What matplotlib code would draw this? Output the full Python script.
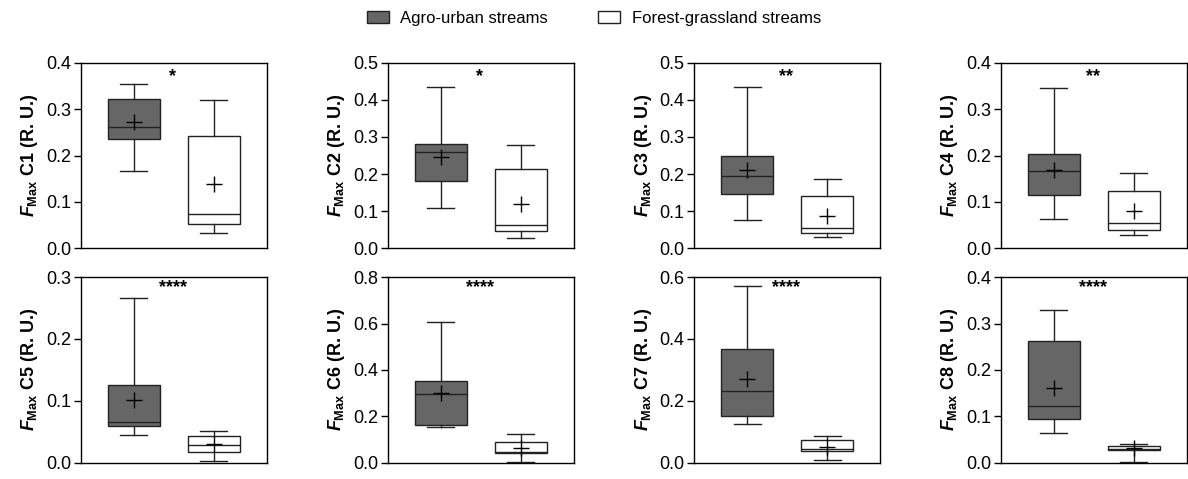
import matplotlib.pyplot as plt
from matplotlib.patches import Patch

plt.rcParams['font.family'] = 'Liberation Sans'
plt.rcParams['mathtext.fontset'] = 'custom'
plt.rcParams['mathtext.rm'] = 'Liberation Sans:bold'
plt.rcParams['mathtext.it'] = 'Liberation Sans:italic:bold'
plt.rcParams['mathtext.bf'] = 'Liberation Sans:bold'

# components C1..C8
components = ["C1", "C2", "C3", "C4", "C5", "C6", "C7", "C8"]
stars = ["*", "*", "**", "**", "****", "****", "****", "****"]
y_max = [0.4, 0.5, 0.5, 0.4, 0.3, 0.8, 0.6, 0.4]
y_step = [0.1, 0.1, 0.1, 0.1, 0.1, 0.2, 0.2, 0.1]

# Agro-urban streams (box stats)
agro_lo = [0.167, 0.109, 0.076, 0.064, 0.044, 0.155, 0.124, 0.063]
agro_q1 = [0.236, 0.182, 0.145, 0.114, 0.060, 0.164, 0.152, 0.094]
agro_med = [0.261, 0.259, 0.195, 0.166, 0.066, 0.296, 0.233, 0.122]
agro_q3 = [0.321, 0.282, 0.250, 0.204, 0.126, 0.354, 0.369, 0.262]
agro_hi = [0.355, 0.435, 0.434, 0.346, 0.267, 0.606, 0.570, 0.329]
agro_mean = [0.272, 0.246, 0.210, 0.169, 0.101, 0.299, 0.271, 0.160]

# Forest-grassland streams
forest_lo = [0.032, 0.029, 0.031, 0.029, 0.003, 0.003, 0.010, 0.001]
forest_q1 = [0.053, 0.047, 0.042, 0.040, 0.017, 0.042, 0.037, 0.027]
forest_med = [0.075, 0.064, 0.054, 0.055, 0.029, 0.045, 0.045, 0.030]
forest_q3 = [0.243, 0.214, 0.142, 0.124, 0.043, 0.088, 0.075, 0.036]
forest_hi = [0.320, 0.279, 0.186, 0.163, 0.051, 0.124, 0.085, 0.040]
forest_mean = [0.139, 0.120, 0.087, 0.080, 0.030, 0.062, 0.050, 0.032]

dark = "#666666"

fig = plt.figure(figsize=(11.88, 4.79), dpi=100)

lefts = [0.0679, 0.3264, 0.5844, 0.8423]
bottoms = [0.4816, 0.034]
w, h = 0.1566, 0.3875

for i, comp in enumerate(components):
    row, col = divmod(i, 4)
    ax = fig.add_axes([lefts[col], bottoms[row], w, h])

    stats = [
        dict(whislo=agro_lo[i], q1=agro_q1[i], med=agro_med[i], q3=agro_q3[i],
             whishi=agro_hi[i], mean=agro_mean[i], fliers=[]),
        dict(whislo=forest_lo[i], q1=forest_q1[i], med=forest_med[i], q3=forest_q3[i],
             whishi=forest_hi[i], mean=forest_mean[i], fliers=[]),
    ]
    bp = ax.bxp(stats, positions=[1, 2], widths=0.65, capwidths=0.34,
                showmeans=True, patch_artist=True, showfliers=False,
                boxprops=dict(edgecolor="#222222", linewidth=1.0),
                medianprops=dict(color="#222222", linewidth=1.0),
                whiskerprops=dict(color="#222222", linewidth=1.0),
                capprops=dict(color="#222222", linewidth=1.0),
                meanprops=dict(marker="+", markersize=11, markeredgecolor="black",
                               markeredgewidth=1.0))
    bp["boxes"][0].set_facecolor(dark)
    bp["boxes"][1].set_facecolor("white")

    ax.set_xlim(0.335, 2.665)
    ax.set_ylim(0, y_max[i])
    n = int(round(y_max[i] / y_step[i]))
    ax.set_yticks([k * y_step[i] for k in range(n + 1)])
    ax.set_yticklabels([f"{k * y_step[i]:.1f}" for k in range(n + 1)])
    ax.set_xticks([])
    ax.tick_params(axis="y", labelsize=13, length=5, width=1, direction="out", pad=2)
    for s in ax.spines.values():
        s.set_linewidth(1.0)
    ax.set_ylabel(r"$F_{\mathbf{Max}}$ " + comp + " (R. U.)", fontsize=13,
                  fontweight="bold", labelpad=4)

    ystar = 0.925 if row == 0 else 0.945
    ax.text(0.495, ystar, stars[i], transform=ax.transAxes, ha="center", va="center",
            fontsize=13, fontweight="bold")

handles = [Patch(facecolor=dark, edgecolor="#222222", label="Agro-urban streams"),
           Patch(facecolor="white", edgecolor="#222222", label="Forest-grassland streams")]
fig.legend(handles=handles, loc="center", bbox_to_anchor=(0.5, 0.962), ncol=2,
           frameon=False, fontsize=12, handlelength=1.3, handleheight=0.75,
           columnspacing=3.0, handletextpad=0.7)

fig.savefig("out.png", dpi=100)
